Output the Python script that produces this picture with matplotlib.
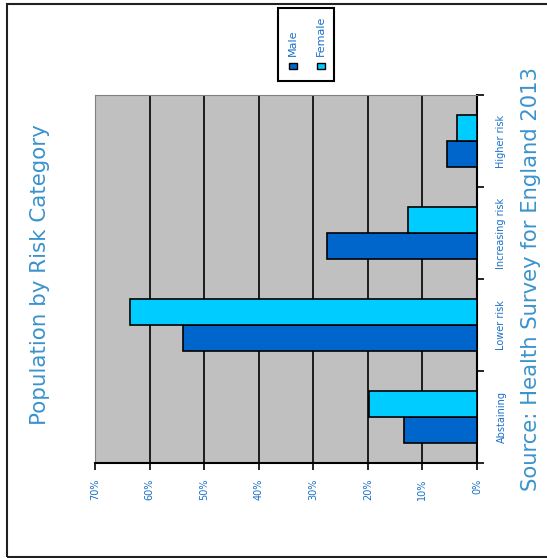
import matplotlib
matplotlib.use("Agg")
import matplotlib.pyplot as plt
from matplotlib.patches import Rectangle
import numpy as np

categories = ["Abstaining", "Lower risk", "Increasing risk", "Higher risk"]
male = [13.4, 53.8, 27.4, 5.5]
female = [19.8, 63.6, 12.7, 3.7]
pct_ticks = [0, 10, 20, 30, 40, 50, 60, 70]

male_color = "#0066CC"
female_color = "#00CCFF"
text_blue = "#3A93CE"
tick_blue = "#1A70C8"
narrow = ["Liberation Sans Narrow", "DejaVu Sans Condensed", "DejaVu Sans"]

fig = plt.figure(figsize=(5.47, 5.58), dpi=100)
ax = fig.add_axes([95 / 547, 95 / 558, 382 / 547, 368 / 558])
ax.set_facecolor("#C0C0C0")

y = np.arange(len(categories))
w = 0.285
ax.barh(y - w / 2, male, height=w, color=male_color, edgecolor="black", linewidth=1.2, zorder=3)
ax.barh(y + w / 2, female, height=w, color=female_color, edgecolor="black", linewidth=1.2, zorder=3)

# value axis: 0% on the right, 70% on the left (chart is turned on its side)
ax.set_xlim(70, 0)
ax.set_xticks(pct_ticks)
ax.set_xticklabels([f"{t}%" for t in pct_ticks], rotation=90, fontsize=7,
                   color=tick_blue, family=narrow)
for t in pct_ticks:
    ax.axvline(t, color="black", linewidth=1.2, zorder=1)
ax.tick_params(axis="x", length=5, width=1.2, direction="out", pad=6)

# category axis on the right side
ax.set_ylim(-0.5, 3.5)
ax.yaxis.tick_right()
ax.set_yticks(y)
ax.set_yticklabels(categories, rotation=90, va="center", ha="left", fontsize=7,
                   color=tick_blue, family=narrow)
ax.set_yticks(np.arange(-0.5, 4, 1), minor=True)
ax.tick_params(axis="y", which="major", length=0, pad=14)
ax.tick_params(axis="y", which="minor", length=5, width=1.2, direction="out")

for side in ["top", "left"]:
    ax.spines[side].set_color("#808080")
for side in ["right", "bottom"]:
    ax.spines[side].set_color("black")
    ax.spines[side].set_linewidth(1.5)

fig.text(40 / 547, 1 - 275 / 558, "Population by Risk Category", rotation=90,
         ha="center", va="center", fontsize=15.4, color=text_blue)
fig.text(531 / 547, 1 - 279 / 558, "Source: Health Survey for England 2013", rotation=90,
         ha="center", va="center", fontsize=15.2, color=text_blue)

# legend box drawn by hand (text is rotated)
fig.patches.append(Rectangle((278 / 547, 1 - 81 / 558), 56 / 547, 73 / 558,
                             transform=fig.transFigure, facecolor="white",
                             edgecolor="black", linewidth=1.5))
for xc, lab, col in [(293, "Male", male_color), (321, "Female", female_color)]:
    fig.patches.append(Rectangle(((xc - 4) / 547, 1 - 69 / 558), 8 / 547, 6 / 558,
                                 transform=fig.transFigure, facecolor=col,
                                 edgecolor="black", linewidth=1))
    fig.text(xc / 547, 1 - 56 / 558, lab, rotation=90, ha="center", va="bottom",
             fontsize=8, color=tick_blue, family=narrow)

# outer frame
fig.patches.append(Rectangle((7 / 547, 1 / 558), 545 / 547, 553 / 558,
                             transform=fig.transFigure, fill=False,
                             edgecolor="#202020", linewidth=1.5))

fig.savefig("out.png", dpi=100)
